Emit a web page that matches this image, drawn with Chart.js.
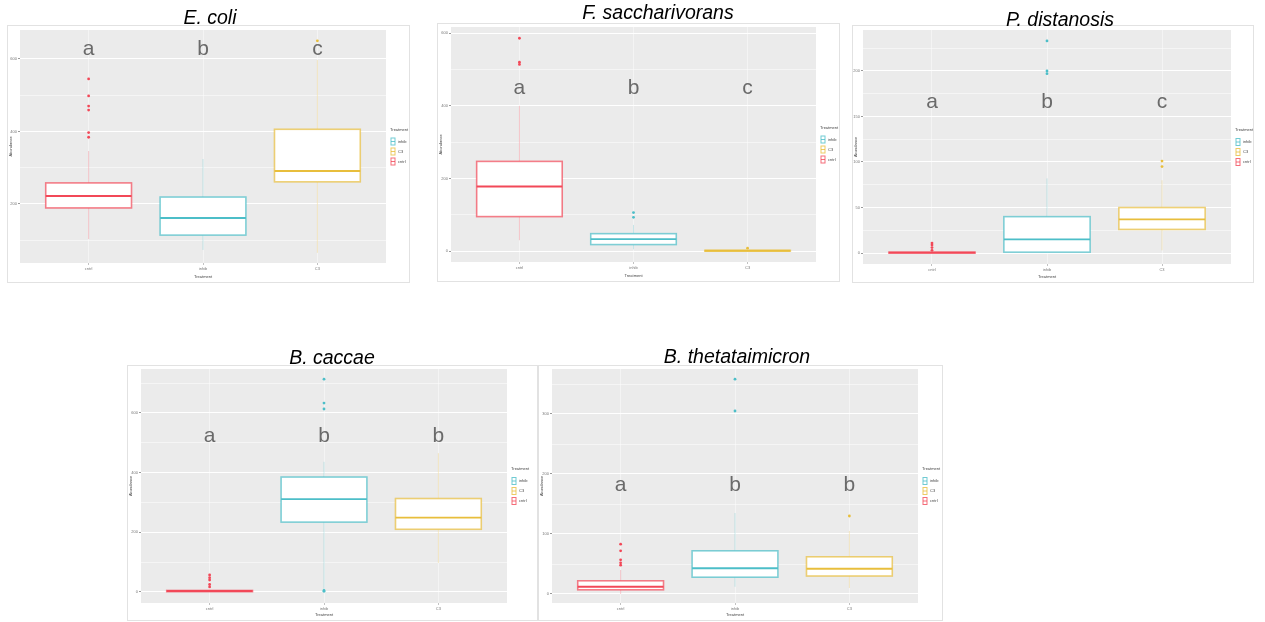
<!DOCTYPE html>
<html>
<head>
<meta charset="utf-8">
<script src="https://cdn.jsdelivr.net/npm/chart.js@4/dist/chart.umd.min.js"></script>
<style>
  html, body { margin: 0; padding: 0; background: #fff; }
  body { width: 1265px; height: 622px; position: relative; overflow: hidden; font-family: "Liberation Sans", Arial, sans-serif; }
  .frame { position: absolute; box-sizing: border-box; border: 1px solid #e2e2e2; }
  .frame canvas { position: absolute; left: -1px; top: -1px; }
  .ttl { position: absolute; font-style: italic; font-size: 19.5px; line-height: 19px; color: #000; text-align: center; white-space: nowrap; }
</style>
</head>
<body>
<script>
// Treatment groups, in axis order
const categories = ['cntrl', 'inhib', 'C3'];
// Legend order of the same groups
const legendOrder = [1, 2, 0];
const legendTitle = 'Treatment';

// Box statistics per group: [lower whisker, Q1, median, Q3, upper whisker]
const ecoliStats   = [[103, 189, 222, 258, 346], [73, 114, 161, 219, 324], [65, 261, 291, 406, 597]];
const ecoliOutliers = [[545, 498, 470, 459, 397, 384], [], [650]];
const ecoliLetters = ['a', 'b', 'c'];

const fsacchStats   = [[30, 95, 178, 247, 400], [5, 18, 33, 48, 72], [0, 0, 1, 2, 3]];
const fsacchOutliers = [[586, 520, 514], [106, 93], [8]];
const fsacchLetters = ['a', 'b', 'c'];

const pdistStats   = [[0, 0, 0.5, 1, 1], [1, 1, 15, 40, 82], [3, 26, 37, 50, 80]];
const pdistOutliers = [[3, 6, 9, 11], [233, 200, 197], [101, 95]];
const pdistLetters = ['a', 'b', 'c'];

const bcaccStats   = [[0, 1, 3, 5, 8], [10, 234, 311, 385, 436], [97, 210, 249, 313, 465]];
const bcaccOutliers = [[57, 48, 40, 25, 17], [713, 633, 613, 5, 2], []];
const bcaccLetters = ['a', 'b', 'b'];

const btheStats   = [[0, 7, 12, 22, 40], [12, 28, 43, 72, 135], [10, 30, 42, 62, 105]];
const btheOutliers = [[83, 72, 57, 52, 48], [358, 305], [130]];
const btheLetters = ['a', 'b', 'b'];

// Group colours
const groupColors = [[242, 72, 88], [76, 190, 200], [232, 190, 60]];
const rgba = (c, a) => `rgba(${c[0]},${c[1]},${c[2]},${a})`;

// Panel placement: frame box, plot area (grey panel) edges, title centre
const panels = [
  { id: 'ecoli',  title: 'E. coli',           frame: [7, 25, 410, 283],    plot: [20, 30, 386, 263],   tc: [210, 17],
    stats: ecoliStats,  outliers: ecoliOutliers,  letters: ecoliLetters,  letterY: 611, yMin: 37,  yMax: 680, major: 200, minor: 100 },
  { id: 'fsacch', title: 'F. saccharivorans', frame: [437, 23, 840, 282],  plot: [451, 27, 816, 262],  tc: [658, 12],
    stats: fsacchStats, outliers: fsacchOutliers, letters: fsacchLetters, letterY: 432, yMin: -30, yMax: 617, major: 200, minor: 100 },
  { id: 'pdist',  title: 'P. distanosis',     frame: [852, 25, 1254, 283], plot: [863, 30, 1231, 264], tc: [1060, 19],
    stats: pdistStats,  outliers: pdistOutliers,  letters: pdistLetters,  letterY: 159, yMin: -12, yMax: 245, major: 50,  minor: 25 },
  { id: 'bcacc',  title: 'B. caccae',         frame: [127, 365, 538, 621], plot: [141, 369, 507, 603], tc: [332, 357],
    stats: bcaccStats,  outliers: bcaccOutliers,  letters: bcaccLetters,  letterY: 503, yMin: -37, yMax: 747, major: 200, minor: 100 },
  { id: 'bthe',   title: 'B. thetataimicron', frame: [538, 365, 943, 621], plot: [552, 368, 918, 603], tc: [737, 356],
    stats: btheStats,   outliers: btheOutliers,   letters: btheLetters,   letterY: 172, yMin: -15, yMax: 375, major: 100, minor: 50 }
];

// Grey panel, boxes, whiskers, letters and legend, all placed through the chart scales
const boxPlot = {
  id: 'boxPlot',
  beforeDraw(chart) {
    const a = chart.chartArea, ctx = chart.ctx;
    ctx.save();
    ctx.fillStyle = '#ebebeb';
    ctx.fillRect(a.left, a.top, a.right - a.left, a.bottom - a.top);
    ctx.restore();
  },
  beforeDatasetsDraw(chart, args, opts) {
    const ctx = chart.ctx, xs = chart.scales.x, ys = chart.scales.y;
    const a = chart.chartArea;
    ctx.save();
    ctx.beginPath();
    ctx.rect(a.left, a.top, a.right - a.left, a.bottom - a.top);
    ctx.clip();
    opts.stats.forEach((s, i) => {
      const col = groupColors[i];
      const cx = xs.getPixelForValue(i + 1);
      const x0 = xs.getPixelForValue(i + 1 - 0.375), x1 = xs.getPixelForValue(i + 1 + 0.375);
      const [lo, q1, med, q3, hi] = s.map(v => ys.getPixelForValue(v));
      // whiskers
      ctx.strokeStyle = rgba(col, 0.35);
      ctx.lineWidth = 0.8;
      ctx.beginPath();
      ctx.moveTo(cx, q1); ctx.lineTo(cx, lo);
      ctx.moveTo(cx, q3); ctx.lineTo(cx, hi);
      ctx.stroke();
      // box
      ctx.fillStyle = '#ffffff';
      ctx.fillRect(x0, q3, x1 - x0, q1 - q3);
      ctx.strokeStyle = rgba(col, 0.7);
      ctx.lineWidth = 1.6;
      ctx.strokeRect(x0, q3, x1 - x0, q1 - q3);
      // median
      ctx.strokeStyle = rgba(col, 1);
      ctx.lineWidth = 1.9;
      ctx.beginPath();
      ctx.moveTo(x0, med); ctx.lineTo(x1, med);
      ctx.stroke();
    });
    ctx.restore();
  },
  afterDatasetsDraw(chart, args, opts) {
    const ctx = chart.ctx, xs = chart.scales.x, ys = chart.scales.y;
    ctx.save();
    ctx.fillStyle = '#6a6a6a';
    ctx.font = '21px "Liberation Sans", Arial, sans-serif';
    ctx.textAlign = 'center';
    ctx.textBaseline = 'alphabetic';
    opts.letters.forEach((l, i) => {
      ctx.fillText(l, xs.getPixelForValue(i + 1), ys.getPixelForValue(opts.letterY));
    });
    ctx.restore();
  },
  afterDraw(chart) {
    const ctx = chart.ctx, a = chart.chartArea;
    const lx = a.right + 4, my = (a.top + a.bottom) / 2;
    ctx.save();
    ctx.fillStyle = '#444';
    ctx.font = '4px "Liberation Sans", Arial, sans-serif';
    ctx.textBaseline = 'middle';
    ctx.textAlign = 'left';
    ctx.fillText(legendTitle, lx, my - 17);
    legendOrder.forEach((g, k) => {
      const y = my - 5 + 10 * k;
      const col = groupColors[g];
      ctx.fillStyle = '#fff';
      ctx.fillRect(lx + 1, y - 3.5, 4, 7);
      ctx.strokeStyle = rgba(col, 0.8);
      ctx.lineWidth = 1;
      ctx.strokeRect(lx + 1, y - 3.5, 4, 7);
      ctx.beginPath();
      ctx.moveTo(lx + 1, y); ctx.lineTo(lx + 5, y);
      ctx.stroke();
      ctx.fillStyle = '#444';
      ctx.fillText(categories[g], lx + 8, y);
    });
    ctx.restore();
  }
};

panels.forEach(p => {
  const [fl, ft, fr, fb] = p.frame;
  const [pl, pt, pr, pb] = p.plot;
  const w = fr - fl, h = fb - ft;

  const frame = document.createElement('div');
  frame.className = 'frame';
  frame.style.left = fl + 'px'; frame.style.top = ft + 'px';
  frame.style.width = w + 'px'; frame.style.height = h + 'px';
  const cv = document.createElement('canvas');
  cv.width = w; cv.height = h;
  cv.style.width = w + 'px'; cv.style.height = h + 'px';
  frame.appendChild(cv);
  document.body.appendChild(frame);

  const t = document.createElement('div');
  t.className = 'ttl';
  t.textContent = p.title;
  t.style.left = (p.tc[0] - 150) + 'px';
  t.style.width = '300px';
  t.style.top = (p.tc[1] - 9.5) + 'px';
  document.body.appendChild(t);

  const datasets = p.outliers.map((vals, i) => ({
    label: categories[i],
    data: vals.map(v => ({ x: i + 1, y: v })),
    backgroundColor: rgba(groupColors[i], 1),
    borderColor: rgba(groupColors[i], 1),
    pointRadius: 1.4,
    borderWidth: 0
  }));

  new Chart(cv, {
    type: 'scatter',
    data: { datasets },
    plugins: [boxPlot],
    options: {
      responsive: false,
      animation: false,
      devicePixelRatio: 1,
      events: [],
      layout: { padding: { top: pt - ft, right: fr - pr, left: 0, bottom: 0 } },
      plugins: {
        legend: { display: false },
        tooltip: { enabled: false },
        boxPlot: { stats: p.stats, letters: p.letters, letterY: p.letterY }
      },
      scales: {
        x: {
          type: 'linear', min: 0.4, max: 3.6,
          afterBuildTicks: s => { s.ticks = [1, 2, 3].map(v => ({ value: v })); },
          afterFit: s => { s.height = fb - pb; },
          ticks: { callback: v => categories[v - 1], font: { size: 4 }, color: '#777', padding: 1, maxRotation: 0 },
          grid: { color: 'rgba(255,255,255,0.8)', lineWidth: 0.6, tickLength: 2, tickColor: '#999', drawOnChartArea: true },
          border: { display: false },
          title: { display: true, text: 'Treatment', font: { size: 4 }, color: '#444', padding: { top: 0, bottom: 4 } }
        },
        y: {
          type: 'linear', min: p.yMin, max: p.yMax,
          afterBuildTicks: s => {
            const arr = [];
            for (let v = Math.ceil(p.yMin / p.minor) * p.minor; v <= p.yMax; v += p.minor) arr.push({ value: v });
            s.ticks = arr;
          },
          afterFit: s => { s.width = pl - fl; },
          ticks: {
            callback: v => (Math.abs(v % p.major) < 1e-9 ? String(v) : ''),
            font: { size: 4 }, color: '#777', padding: 1
          },
          grid: {
            color: '#ffffff',
            lineWidth: c => (c.tick && Math.abs(c.tick.value % p.major) < 1e-9 ? 1.1 : 0.5),
            tickLength: 2,
            tickColor: c => (c.tick && Math.abs(c.tick.value % p.major) < 1e-9 ? '#999' : 'rgba(0,0,0,0)')
          },
          border: { display: false },
          title: { display: true, text: 'Abundance', font: { size: 4 }, color: '#444', padding: 1 }
        }
      }
    }
  });
});
</script>
</body>
</html>
